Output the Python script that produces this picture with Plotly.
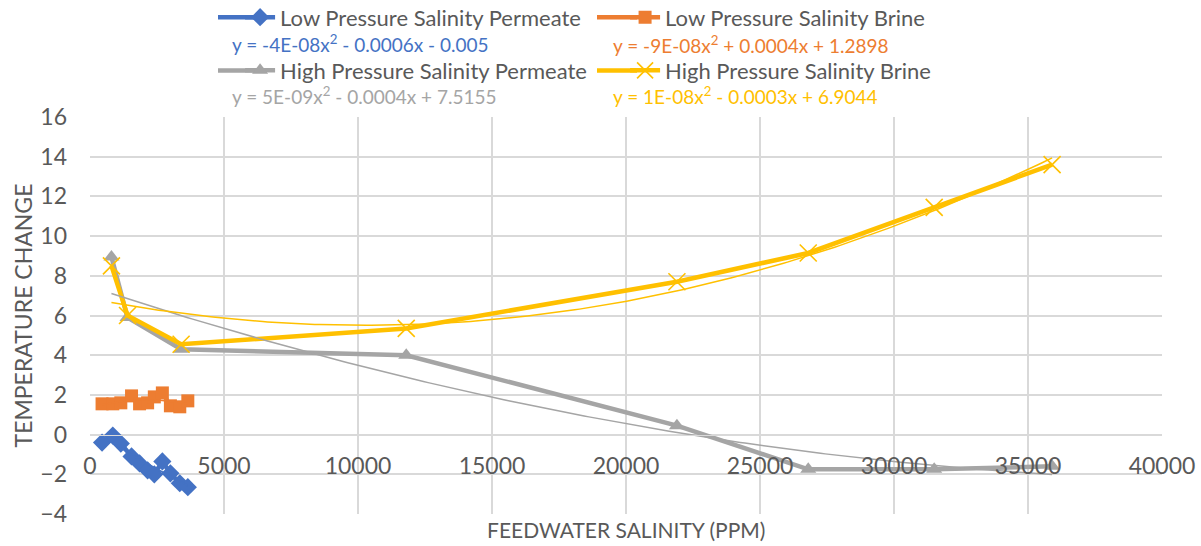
import numpy as np
import plotly.graph_objects as go

# Low pressure runs (feedwater salinity in ppm, temperature change)
lp_salinity = [450, 850, 1150, 1550, 1850, 2150, 2400, 2700, 3000, 3350, 3650]
lp_permeate = [-0.4, -0.05, -0.45, -1.1, -1.45, -1.8, -2.0, -1.35, -1.95, -2.45, -2.65]
lp_brine = [1.55, 1.55, 1.6, 1.95, 1.55, 1.6, 1.9, 2.1, 1.45, 1.4, 1.7]

# High pressure runs
hp_salinity = [800, 1400, 3400, 11800, 21900, 26800, 31500, 35900]
hp_permeate = [8.95, 5.9, 4.3, 4.0, 0.45, -1.75, -1.75, -1.6]
hp_brine = [8.5, 6.0, 4.55, 5.35, 7.7, 9.15, 11.45, 13.6]

names = ["Low Pressure Salinity Permeate", "Low Pressure Salinity Brine",
         "High Pressure Salinity Permeate", "High Pressure Salinity Brine"]
equations = ["y = -4E-08x<sup>2</sup> - 0.0006x - 0.005",
             "y = -9E-08x<sup>2</sup> + 0.0004x + 1.2898",
             "y = 5E-09x<sup>2</sup> - 0.0004x + 7.5155",
             "y = 1E-08x<sup>2</sup> - 0.0003x + 6.9044"]

x_ticks = [0, 5000, 10000, 15000, 20000, 25000, 30000, 35000, 40000]
y_ticks = [-4, -2, 0, 2, 4, 6, 8, 10, 12, 14, 16]

BLUE, ORANGE, GRAY, GOLD = "#4472C4", "#ED7D31", "#A5A5A5", "#FFC000"
TXT = "#595959"
GRID = "#D9D9D9"
FONT = "Lato"

series = [
    (lp_salinity, lp_permeate, BLUE, dict(symbol="diamond", size=14, color=BLUE), "legend"),
    (lp_salinity, lp_brine, ORANGE, dict(symbol="square", size=13, color=ORANGE), "legend"),
    (hp_salinity, hp_permeate, GRAY, dict(symbol="triangle-up", size=14, color=GRAY), "legend2"),
    (hp_salinity, hp_brine, GOLD, dict(symbol="x-thin-open", size=17,
                                        line=dict(color=GOLD, width=1.6)), "legend2"),
]

fig = go.Figure()
for (xs, ys, col, mk, lg), nm in zip(series, names):
    fig.add_trace(go.Scatter(x=xs, y=ys, mode="lines+markers", name=nm,
                             line=dict(color=col, width=4.5), marker=mk, legend=lg))

# second-order polynomial trendlines over each series' salinity range
for (xs, ys, col, mk, lg) in series:
    coef = np.polyfit(xs, ys, 2)
    xf = np.linspace(min(xs), max(xs), 200)
    fig.add_trace(go.Scatter(x=xf, y=np.polyval(coef, xf), mode="lines",
                             line=dict(color=col, width=1.5), showlegend=False,
                             hoverinfo="skip"))

# trendline equations under the legend entries
eq_pos = [(0.1306, 1.184), (0.486, 1.182), (0.1306, 1.053), (0.486, 1.053)]
for eq, col, (px, py) in zip(equations, [BLUE, ORANGE, GRAY, GOLD], eq_pos):
    fig.add_annotation(text=eq, x=px, y=py, xref="paper", yref="paper",
                       xanchor="left", yanchor="middle", showarrow=False,
                       font=dict(family=FONT, size=19, color=col))

# legend swatch lines are a little longer than the default
row1, row2 = 1.251, 1.117
for col, px0, py in [(BLUE, 218, row1), (ORANGE, 597, row1),
                     (GRAY, 218, row2), (GOLD, 597, row2)]:
    fig.add_shape(type="line", xref="paper", yref="paper",
                  x0=(px0 - 90) / 1072, x1=(px0 + 40 - 90) / 1072, y0=py, y1=py,
                  line=dict(color=col, width=4.5), layer="below")

fig.add_annotation(text="FEEDWATER SALINITY (PPM)", x=0.5, y=-0.038,
                   xref="paper", yref="paper", xanchor="center", yanchor="middle",
                   showarrow=False, font=dict(family=FONT, size=21, color=TXT))

legend_common = dict(orientation="h", xanchor="left", yanchor="middle",
                     bgcolor="rgba(0,0,0,0)", entrywidth=340,
                     font=dict(family=FONT, size=22, color=TXT))

fig.update_layout(
    width=1201, height=546,
    margin=dict(l=90, r=39, t=117, b=32, autoexpand=False),
    paper_bgcolor="white", plot_bgcolor="white",
    font=dict(family=FONT, color=TXT),
    legend=dict(x=0.14, y=row1, **legend_common),
    legend2=dict(x=0.14, y=row2, **legend_common),
    xaxis=dict(range=[0, 40000], tickvals=x_ticks, ticktext=[str(v) for v in x_ticks],
               showgrid=True, gridcolor=GRID, gridwidth=1.5, zeroline=False,
               anchor="free", position=0.2, showline=True, linecolor=GRID,
               ticks="", ticklabelstandoff=11,
               tickfont=dict(family=FONT, size=23, color=TXT)),
    yaxis=dict(range=[-4, 16], tickvals=y_ticks, domain=[0, 1],
               showgrid=True, gridcolor=GRID, gridwidth=1.5, zeroline=False,
               ticks="", ticklabelstandoff=22,
               tickfont=dict(family=FONT, size=23, color=TXT),
               title=dict(text="TEMPERATURE CHANGE", standoff=1,
                          font=dict(family=FONT, size=23, color=TXT))),
)

fig.write_html("out.html")
